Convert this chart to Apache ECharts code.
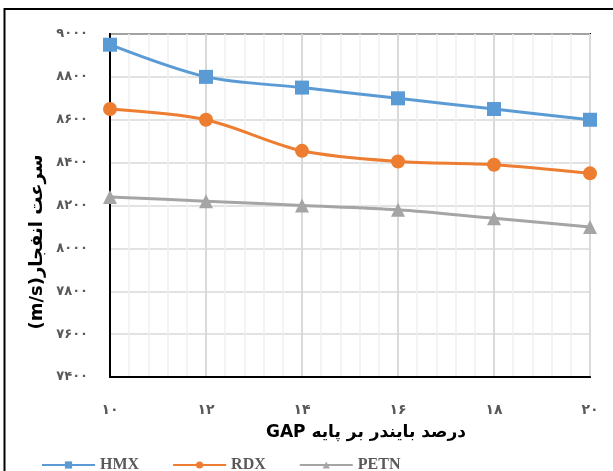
<!DOCTYPE html>
<html>
<head>
<meta charset="utf-8">
<script src="https://cdn.jsdelivr.net/npm/echarts@6/dist/echarts.min.js"></script>
<style>
  html, body { margin: 0; padding: 0; background: #fff; }
  #chart { width: 613px; height: 471px; }
</style>
</head>
<body>
<div id="chart"></div>
<script>
// Binder percentage (GAP based) on the x axis
const categories = [10, 12, 14, 16, 18, 20];
// Detonation velocity (m/s) for each explosive
const hmx  = [8950, 8800, 8750, 8700, 8650, 8600];
const rdx  = [8650, 8600, 8455, 8405, 8390, 8350];
const petn = [8240, 8220, 8200, 8180, 8140, 8100];
const seriesNames = ['HMX', 'RDX', 'PETN'];
const yTicks = { min: 7400, max: 9000, step: 200 };
const yTitle = 'سرعت انفجار(m/s)';
const xTitle = 'درصد بایندر بر پایه GAP';

const persianDigits = '۰۱۲۳۴۵۶۷۸۹';
const toPersian = v => String(v).replace(/[0-9]/g, d => persianDigits[+d]);
const rtl = s => '\u202B' + s + '\u202C';

const pairs = vals => categories.map((c, i) => [c, vals[i]]);

const colors = ['#5B9BD5', '#ED7D31', '#A5A5A5'];
const symbols = ['rect', 'circle', 'triangle'];
const dataSets = [hmx, rdx, petn];

const chart = echarts.init(document.getElementById('chart'));
chart.setOption({
  animation: false,
  grid: {
    left: 110, right: 23, top: 34, bottom: 94,
    show: true, borderColor: '#000', borderWidth: 2
  },
  xAxis: {
    type: 'value',
    min: categories[0], max: categories[categories.length - 1], interval: 2,
    axisLine: { show: true, lineStyle: { color: '#000', width: 2 } },
    axisTick: { show: false },
    axisLabel: {
      margin: 26, color: '#595959', fontSize: 14, fontWeight: 'bold',
      fontFamily: 'DejaVu Sans', formatter: v => toPersian(v)
    },
    splitLine: { show: true, lineStyle: { color: '#D9D9D9', width: 2 } },
    minorTick: { show: false, splitNumber: 5 },
    minorSplitLine: { show: true, lineStyle: { color: '#EFEFEF', width: 1.5 } }
  },
  yAxis: {
    type: 'value',
    min: yTicks.min, max: yTicks.max, interval: yTicks.step,
    axisLine: { show: true, lineStyle: { color: '#000', width: 2 } },
    axisTick: { show: false },
    axisLabel: {
      margin: 22, color: '#595959', fontSize: 13, fontWeight: 'bold',
      fontFamily: 'DejaVu Sans', formatter: v => toPersian(v)
    },
    splitLine: { show: true, lineStyle: { color: '#D9D9D9', width: 1.5 } }
  },
  legend: {
    left: 41, top: 457, padding: 0,
    itemWidth: 53, itemHeight: 9, itemGap: 33,
    textStyle: {
      color: '#595959', fontSize: 16, fontWeight: 'bold',
      fontFamily: 'Liberation Serif'
    },
    data: seriesNames
  },
  series: seriesNames.map((name, i) => ({
    name,
    type: 'line',
    data: pairs(dataSets[i]),
    smooth: 0.3,
    symbol: symbols[i],
    symbolSize: 14,
    lineStyle: { color: colors[i], width: 3 },
    itemStyle: { color: colors[i] },
    z: 3 + i
  })),
  graphic: [
    {
      type: 'rect', silent: true, z: 0,
      shape: { x: 4.5, y: 9, width: 700, height: 600 },
      style: { fill: null, stroke: '#000', lineWidth: 2 }
    },
    {
      type: 'text', x: 37, y: 242, rotation: Math.PI / 2,
      style: {
        text: rtl(yTitle), fill: '#000', fontSize: 18, fontWeight: 'bold',
        fontFamily: 'DejaVu Sans', align: 'center', verticalAlign: 'middle'
      }
    },
    {
      type: 'text', x: 366, y: 433,
      style: {
        text: rtl(xTitle), fill: '#000', fontSize: 17, fontWeight: 'bold',
        fontFamily: 'DejaVu Sans', align: 'center', verticalAlign: 'middle'
      }
    }
  ]
});
</script>
</body>
</html>
